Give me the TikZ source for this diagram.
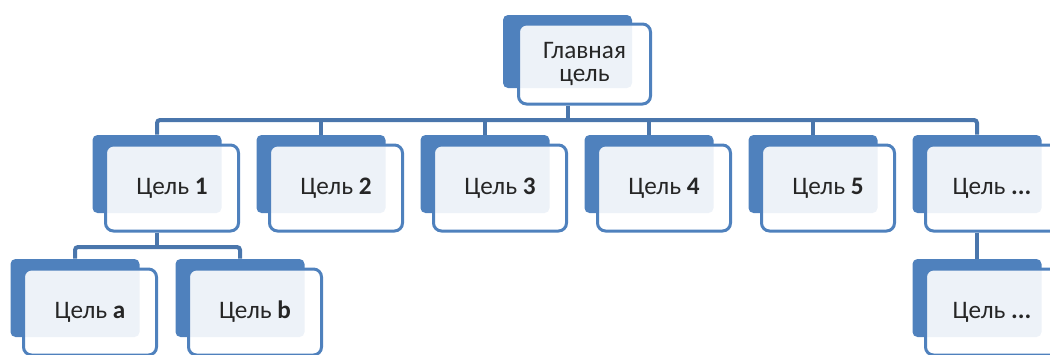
\documentclass[tikz,border=0pt]{standalone}
\usepackage{fontspec}
\setmainfont{Carlito}
\usetikzlibrary{positioning,backgrounds}
\definecolor{goalblue}{HTML}{4F81BD}
\definecolor{linkblue}{HTML}{4A76AC}
\definecolor{goaltext}{HTML}{262626}

\begin{document}
\begin{tikzpicture}[
  x=0.5pt, y=-0.5pt,
  font=\fontsize{12.6}{14}\selectfont,
  back/.style={fill=goalblue, rounded corners=2.5pt, minimum width=64.5pt, minimum height=39pt, inner sep=0pt},
  front/.style={draw=goalblue, line width=1.5pt, fill=white, fill opacity=0.9, text opacity=1, text=goaltext, rounded corners=4pt, minimum width=66.5pt, minimum height=43pt, inner sep=0pt, align=center},
  mainback/.style={back, minimum width=64.5pt, minimum height=36.5pt},
  mainfront/.style={front, minimum width=66pt, minimum height=40pt, font=\fontsize{12.6}{11.8}\selectfont},
  conn/.style={draw=linkblue, line width=2pt, rounded corners=1.5pt}
]
  \useasboundingbox (0,0) rectangle (1050,354);
  \clip (0,0) rectangle (1050,354);

  % top goal
  \node[mainback] (mainb) at (567.5,51.5) {};
  \node[mainfront] (main) at ([shift={(17,12.5)}]mainb.center) {Главная\\цель};

  % second level
  \node[back] (g1b) at (157,174) {};
  \node[front] (g1) at ([shift={(15,14)}]g1b.center) {Цель \textbf{1}};
  \node[back] (g2b) at (321,174) {};
  \node[front] (g2) at ([shift={(15,14)}]g2b.center) {Цель \textbf{2}};
  \node[back] (g3b) at (485,174) {};
  \node[front] (g3) at ([shift={(15,14)}]g3b.center) {Цель \textbf{3}};
  \node[back] (g4b) at (649,174) {};
  \node[front] (g4) at ([shift={(15,14)}]g4b.center) {Цель \textbf{4}};
  \node[back] (g5b) at (813,174) {};
  \node[front] (g5) at ([shift={(15,14)}]g5b.center) {Цель \textbf{5}};
  \node[back] (g6b) at (977,174) {};
  \node[front] (g6) at ([shift={(15,14)}]g6b.center) {Цель \textbf{...}};

  % third level
  \node[back] (gab) at (75,298) {};
  \node[front] (ga) at ([shift={(15,14)}]gab.center) {Цель \textbf{a}};
  \node[back] (gbb) at (240,298) {};
  \node[front] (gb) at ([shift={(15,14)}]gbb.center) {Цель \textbf{b}};
  \node[back] (g7b) at (977,298) {};
  \node[front] (g7) at ([shift={(15,14)}]g7b.center) {Цель \textbf{...}};

  % connectors
  \begin{scope}[on background layer]
    \coordinate (bus) at (567.5,120);
    \coordinate (subbus) at (157,247);
    \draw[conn] (mainb.south |- main.south) -- (bus);
    \draw[conn] (g1b.north) |- (bus) -| (g6b.north);
    \foreach \n in {g2b,g3b,g4b,g5b}
      \draw[conn] (\n.north) -- (\n.north |- bus);
    \draw[conn] (g1b.south |- g1.south) -- (subbus);
    \draw[conn] (gab.north) |- (subbus) -| (gbb.north);
    \draw[conn] (g6b.south |- g6.south) -- (g7b.north);
  \end{scope}
\end{tikzpicture}
\end{document}
